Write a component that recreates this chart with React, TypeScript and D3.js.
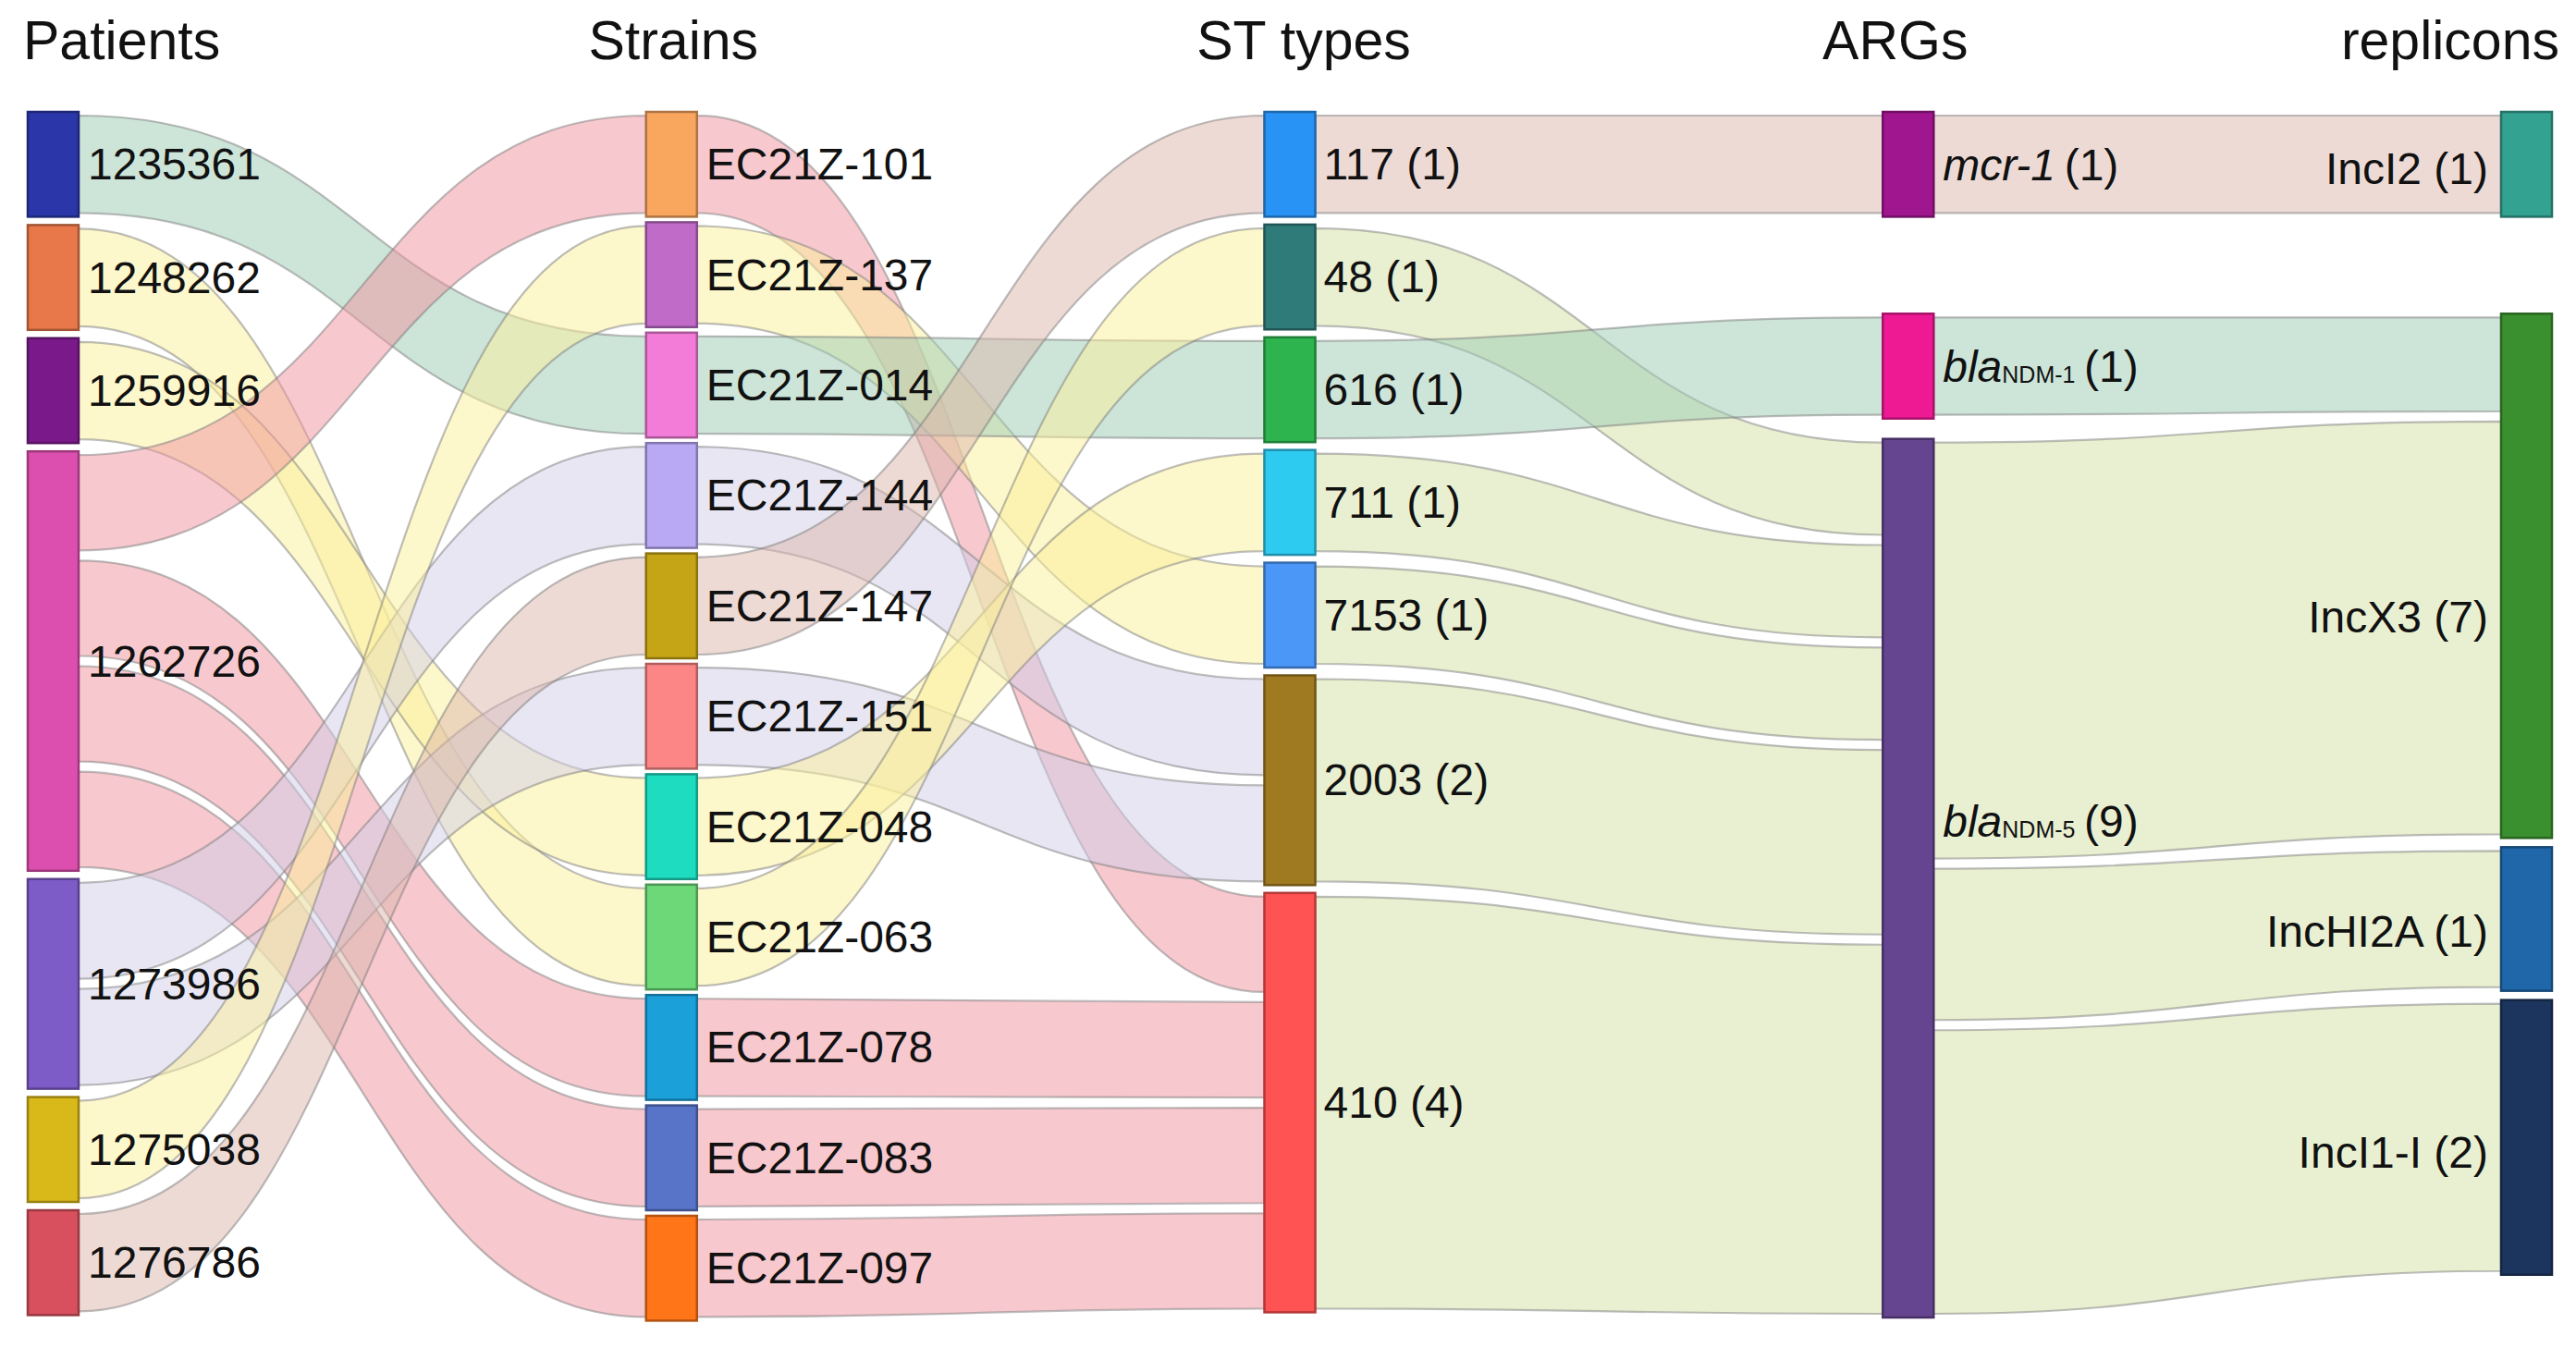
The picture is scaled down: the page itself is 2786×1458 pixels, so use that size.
import React from "react";
import * as d3 from "d3";

// ---------------- DATA ----------------
const COLUMNS = ["Patients", "Strains", "ST types", "ARGs", "replicons"];

const patients = ["1235361", "1248262", "1259916", "1262726", "1273986", "1275038", "1276786"];
const patientCounts = [1, 1, 1, 4, 2, 1, 1];

const strains = [
  "EC21Z-101", "EC21Z-137", "EC21Z-014", "EC21Z-144", "EC21Z-147", "EC21Z-151",
  "EC21Z-048", "EC21Z-063", "EC21Z-078", "EC21Z-083", "EC21Z-097",
];
const strainCounts = [1, 1, 1, 1, 1, 1, 1, 1, 1, 1, 1];

const stTypes = ["117", "48", "616", "711", "7153", "2003", "410"];
const stCounts = [1, 1, 1, 1, 1, 2, 4];

const argGenes = ["mcr-1", "blaNDM-1", "blaNDM-5"];
const argCounts = [1, 1, 9];
const argSizes = [1, 1, 8.38]; // drawn node size (strain units)

const replicons = ["IncI2", "IncX3", "IncHI2A", "IncI1-I"];
const repliconCounts = [1, 7, 1, 2];
const repliconSizes = [1, 5.0, 1.37, 2.62]; // drawn node size

const patientStrainLinks: [string, string, number][] = [
  ["1235361", "EC21Z-014", 1],
  ["1248262", "EC21Z-063", 1],
  ["1259916", "EC21Z-048", 1],
  ["1262726", "EC21Z-101", 1],
  ["1262726", "EC21Z-078", 1],
  ["1262726", "EC21Z-083", 1],
  ["1262726", "EC21Z-097", 1],
  ["1273986", "EC21Z-144", 1],
  ["1273986", "EC21Z-151", 1],
  ["1275038", "EC21Z-137", 1],
  ["1276786", "EC21Z-147", 1],
];

const strainSTLinks: [string, string, number][] = [
  ["EC21Z-101", "410", 1],
  ["EC21Z-137", "7153", 1],
  ["EC21Z-014", "616", 1],
  ["EC21Z-144", "2003", 1],
  ["EC21Z-147", "117", 1],
  ["EC21Z-151", "2003", 1],
  ["EC21Z-048", "711", 1],
  ["EC21Z-063", "48", 1],
  ["EC21Z-078", "410", 1],
  ["EC21Z-083", "410", 1],
  ["EC21Z-097", "410", 1],
];

const stArgLinks: [string, string, number][] = [
  ["117", "mcr-1", 1],
  ["48", "blaNDM-5", 1],
  ["616", "blaNDM-1", 1],
  ["711", "blaNDM-5", 1],
  ["7153", "blaNDM-5", 1],
  ["2003", "blaNDM-5", 2],
  ["410", "blaNDM-5", 4],
];

const argRepliconLinks: [string, string, number][] = [
  ["mcr-1", "IncI2", 1],
  ["blaNDM-1", "IncX3", 1],
  ["blaNDM-5", "IncX3", 4.4],
  ["blaNDM-5", "IncHI2A", 1.6],
  ["blaNDM-5", "IncI1-I", 3.0],
];

// ---------------- STYLES ----------------
const NODE_COLORS: Record<string, string> = {
  "1235361": "#2B36A8", "1248262": "#E8784A", "1259916": "#7A1A8A", "1262726": "#DD4FAE",
  "1273986": "#7E5CC8", "1275038": "#D9B81A", "1276786": "#D8505E",
  "EC21Z-101": "#F9A65F", "EC21Z-137": "#C06BC8", "EC21Z-014": "#F27CD8", "EC21Z-144": "#B9A9F5",
  "EC21Z-147": "#C5A516", "EC21Z-151": "#FC8686", "EC21Z-048": "#1EDCC0", "EC21Z-063": "#6CD877",
  "EC21Z-078": "#1BA0DA", "EC21Z-083": "#5874C8", "EC21Z-097": "#FF7518",
  "117": "#2893F5", "48": "#2E7B7A", "616": "#2DB44E", "711": "#2ECBF0", "7153": "#4B97F8",
  "2003": "#A07A20", "410": "#FF5252",
  "mcr-1": "#A0168F", "blaNDM-1": "#EE1A94", "blaNDM-5": "#654590",
  "IncI2": "#33A291", "IncX3": "#3A8F2E", "IncHI2A": "#1F67A8", "IncI1-I": "#1C355E",
};

const FAMILY: Record<string, string> = {
  pink: "#EF939F", green: "#9BCBB3", yellow: "#FBF09A", lavender: "#D1CDE7",
  tan: "#DBB5AB", olive: "#D3E1A3",
};
const LINK_FAMILY: Record<string, string> = {
  "1235361|EC21Z-014": "green", "1248262|EC21Z-063": "yellow", "1259916|EC21Z-048": "yellow",
  "1262726|EC21Z-101": "pink", "1262726|EC21Z-078": "pink", "1262726|EC21Z-083": "pink",
  "1262726|EC21Z-097": "pink", "1273986|EC21Z-144": "lavender", "1273986|EC21Z-151": "lavender",
  "1275038|EC21Z-137": "yellow", "1276786|EC21Z-147": "tan",
  "EC21Z-101|410": "pink", "EC21Z-137|7153": "yellow", "EC21Z-014|616": "green",
  "EC21Z-144|2003": "lavender", "EC21Z-147|117": "tan", "EC21Z-151|2003": "lavender",
  "EC21Z-048|711": "yellow", "EC21Z-063|48": "yellow", "EC21Z-078|410": "pink",
  "EC21Z-083|410": "pink", "EC21Z-097|410": "pink",
  "117|mcr-1": "tan", "48|blaNDM-5": "olive", "616|blaNDM-1": "green", "711|blaNDM-5": "olive",
  "7153|blaNDM-5": "olive", "2003|blaNDM-5": "olive", "410|blaNDM-5": "olive",
  "mcr-1|IncI2": "tan", "blaNDM-1|IncX3": "green", "blaNDM-5|IncX3": "olive",
  "blaNDM-5|IncHI2A": "olive", "blaNDM-5|IncI1-I": "olive",
};

const LABEL_DY: Record<string, number> = {
  "blaNDM-5": -62, IncI2: 5, IncX3: 45, IncHI2A: 14, "IncI1-I": 16,
};

const W = 2786;
const H = 1458;
const TOP = 121;
const BOTTOM = 1425;
const NODE_W = 55;
const UNIT = 113.4;
const COL_PAD = [9, 6, 8.5, 22, 10];
const COL_MODE = ["stack", "stack", "stack", "align", "align"];
const SEG_MARGIN = 4;
const SEG_GAP = 11;
const FONT = "'Liberation Sans', Arial, Helvetica, sans-serif";

type Node = {
  id: string; count: number; size: number; col: number;
  x0: number; x1: number; y0: number; y1: number; ins: Link[]; outs: Link[];
};
type Link = {
  source: Node; target: Node; value: number; key: string;
  sy0: number; sy1: number; ty0: number; ty1: number;
};

function buildLayout() {
  const x = d3.scalePoint<string>().domain(COLUMNS).range([30, 2705]);
  const ky = d3.scaleLinear().domain([0, 1]).range([0, UNIT]);
  const colData = [
    { names: patients, counts: patientCounts, sizes: patientCounts },
    { names: strains, counts: strainCounts, sizes: strainCounts },
    { names: stTypes, counts: stCounts, sizes: stCounts },
    { names: argGenes, counts: argCounts, sizes: argSizes },
    { names: replicons, counts: repliconCounts, sizes: repliconSizes },
  ];
  const byId = new Map<string, Node>();
  const cols: Node[][] = colData.map((c, ci) =>
    c.names.map((id, i) => {
      const n: Node = {
        id, count: c.counts[i], size: c.sizes[i], col: ci,
        x0: x(COLUMNS[ci])!, x1: x(COLUMNS[ci])! + NODE_W, y0: 0, y1: 0, ins: [], outs: [],
      };
      byId.set(id, n);
      return n;
    })
  );
  const links: Link[] = [];
  [patientStrainLinks, strainSTLinks, stArgLinks, argRepliconLinks].forEach((arr) =>
    arr.forEach(([s, t, v]) => {
      const l: Link = { source: byId.get(s)!, target: byId.get(t)!, value: v, key: s + "|" + t, sy0: 0, sy1: 0, ty0: 0, ty1: 0 };
      l.source.outs.push(l);
      l.target.ins.push(l);
      links.push(l);
    })
  );

  cols.forEach((nodes, ci) => {
    const pad = COL_PAD[ci];
    if (COL_MODE[ci] === "stack") {
      let y = TOP;
      nodes.forEach((n) => {
        n.y0 = y;
        n.y1 = y + ky(n.size);
        y = n.y1 + pad;
      });
    } else {
      let prev = -Infinity;
      nodes.forEach((n) => {
        const srcY = d3.min(n.ins, (l) => l.source.y0) ?? TOP;
        n.y0 = Math.max(srcY, prev + pad);
        n.y1 = n.y0 + ky(n.size);
        prev = n.y1;
      });
      // push back up from the bottom
      let limit = BOTTOM;
      for (let i = nodes.length - 1; i >= 0; i--) {
        const n = nodes[i];
        if (n.y1 > limit) {
          const d = n.y1 - limit;
          n.y0 -= d;
          n.y1 -= d;
        }
        limit = n.y0 - pad;
      }
    }
  });

  // link segments inside nodes
  const assign = (n: Node, arr: Link[], side: "s" | "t") => {
    if (!arr.length) return;
    const total = d3.sum(arr, (l) => l.value);
    const avail = n.y1 - n.y0 - 2 * SEG_MARGIN - (arr.length - 1) * SEG_GAP;
    let y = n.y0 + SEG_MARGIN;
    arr.forEach((l) => {
      const w = (avail * l.value) / total;
      if (side === "s") { l.sy0 = y; l.sy1 = y + w; } else { l.ty0 = y; l.ty1 = y + w; }
      y += w + SEG_GAP;
    });
  };
  byId.forEach((n) => {
    n.outs.sort((a, b) => a.target.y0 - b.target.y0);
    n.ins.sort((a, b) => a.source.y0 - b.source.y0);
    assign(n, n.outs, "s");
    assign(n, n.ins, "t");
  });

  return { cols, links, x };
}

function bandPath(l: Link) {
  const x0 = l.source.x1;
  const x1 = l.target.x0;
  const xm = (x0 + x1) / 2;
  const p = d3.path();
  p.moveTo(x0, l.sy0);
  p.bezierCurveTo(xm, l.sy0, xm, l.ty0, x1, l.ty0);
  p.lineTo(x1, l.ty1);
  p.bezierCurveTo(xm, l.ty1, xm, l.sy1, x0, l.sy1);
  p.closePath();
  return p.toString();
}

function NodeLabel({ n }: { n: Node }) {
  const cy = (n.y0 + n.y1) / 2 + (LABEL_DY[n.id] ?? 0);
  const common = { fontFamily: FONT, fontSize: 48, fill: "#111", dominantBaseline: "central" as const };
  if (n.col <= 1) {
    return <text x={n.x1 + 10} y={cy} {...common}>{n.id}</text>;
  }
  if (n.col === 2) {
    return <text x={n.x1 + 9} y={cy} {...common}>{`${n.id} (${n.count})`}</text>;
  }
  if (n.col === 4) {
    return <text x={n.x0 - 14} y={cy} textAnchor="end" {...common}>{`${n.id} (${n.count})`}</text>;
  }
  // ARGs
  if (n.id.startsWith("bla")) {
    return (
      <text x={n.x1 + 10} y={cy} {...common}>
        <tspan fontStyle="italic">bla</tspan>
        <tspan fontSize={25} dy={9}>{n.id.slice(3)}</tspan>
        <tspan dy={-9}>{`\u2009(${n.count})`}</tspan>
      </text>
    );
  }
  return (
    <text x={n.x1 + 10} y={cy} {...common}>
      <tspan fontStyle="italic">{n.id}</tspan>
      <tspan>{`\u2009(${n.count})`}</tspan>
    </text>
  );
}

export default function App() {
  const { cols, links, x } = React.useMemo(buildLayout, []);
  const titleX = (i: number) => x(COLUMNS[i])! + NODE_W / 2;
  const titles = [
    { t: COLUMNS[0], x: 25, anchor: "start" },
    { t: COLUMNS[1], x: titleX(1) + 2, anchor: "middle" },
    { t: COLUMNS[2], x: titleX(2) + 15, anchor: "middle" },
    { t: COLUMNS[3], x: titleX(3) - 14, anchor: "middle" },
    { t: COLUMNS[4], x: 2768, anchor: "end" },
  ];
  return (
    <div style={{ position: "absolute", left: 0, top: 0, width: W, height: H, background: "#fff" }}>
      <svg width={W} height={H} viewBox={`0 0 ${W} ${H}`}>
        <rect width={W} height={H} fill="#fff" />
        <g>
          {links.map((l) => (
            <path
              key={l.key}
              d={bandPath(l)}
              fill={FAMILY[LINK_FAMILY[l.key]]}
              fillOpacity={0.5}
              stroke="#7d7d7d"
              strokeOpacity={0.5}
              strokeWidth={2.2}
            />
          ))}
        </g>
        <g>
          {cols.flat().map((n) => (
            <rect
              key={n.id}
              x={n.x0}
              y={n.y0}
              width={n.x1 - n.x0}
              height={n.y1 - n.y0}
              fill={NODE_COLORS[n.id]}
              stroke={d3.color(NODE_COLORS[n.id])!.darker(1).formatHex()}
              strokeWidth={2.5}
            />
          ))}
        </g>
        <g>
          {cols.flat().map((n) => (
            <NodeLabel key={n.id} n={n} />
          ))}
        </g>
        <g>
          {titles.map((t) => (
            <text key={t.t} x={t.x} y={64} fontFamily={FONT} fontSize={59} fill="#111" textAnchor={t.anchor as any}>
              {t.t}
            </text>
          ))}
        </g>
      </svg>
    </div>
  );
}
